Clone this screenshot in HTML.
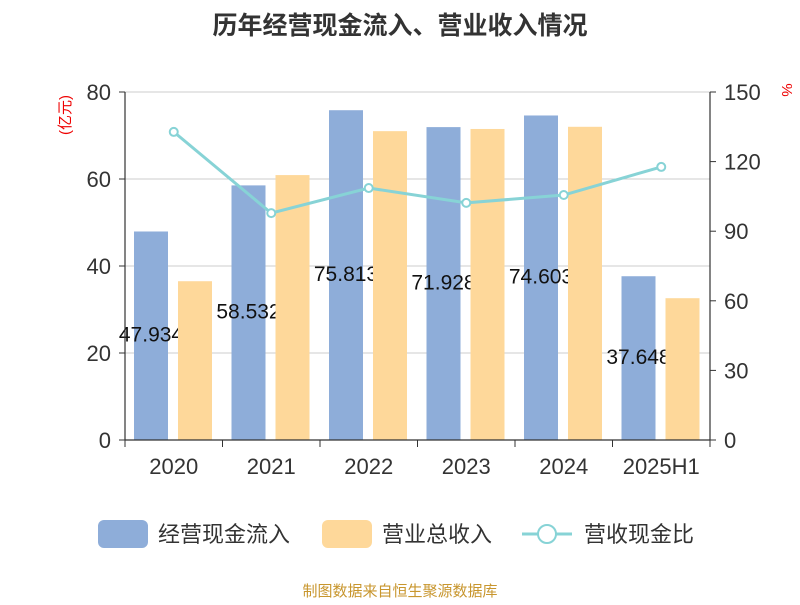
<!DOCTYPE html>
<html><head><meta charset="utf-8"><style>
body{margin:0;background:#fff;width:800px;height:600px;overflow:hidden}
svg text{font-family:"Liberation Sans","Noto Sans CJK SC",sans-serif}
</style></head><body>
<svg id="c" width="800" height="600" xmlns="http://www.w3.org/2000/svg">
<text x="400" y="34" text-anchor="middle" font-size="25" font-weight="bold" fill="#333">历年经营现金流入、营业收入情况</text>
<text transform="translate(70,115) rotate(-90)" text-anchor="middle" font-size="15" fill="#e00">(亿元)</text>
<text transform="translate(782,90) rotate(90)" text-anchor="middle" font-size="15" fill="#e00">%</text>
<g id="grid"></g><g id="bars"></g><g id="axes"></g><g id="line"></g>
<g>
<rect x="98" y="520" width="50" height="28" rx="6" fill="#8eadd9"/>
<text x="158" y="542" font-size="22" fill="#333">经营现金流入</text>
<rect x="322" y="520" width="50" height="28" rx="6" fill="#fed89a"/>
<text x="382" y="542" font-size="22" fill="#333">营业总收入</text>
<line x1="522" y1="534" x2="572" y2="534" stroke="#87d3d6" stroke-width="3"/>
<circle cx="547" cy="534" r="9" fill="#fff" stroke="#87d3d6" stroke-width="2"/>
<text x="584" y="542" font-size="22" fill="#333">营收现金比</text>
</g>
<text x="400" y="596" text-anchor="middle" font-size="15" fill="#c8962e">制图数据来自恒生聚源数据库</text>
</svg>
<script>
const categories=["2020","2021","2022","2023","2024","2025H1"];
const cashInflow=[47.934,58.532,75.813,71.928,74.603,37.648];
const revenue=[36.5,60.9,71.0,71.5,72.0,32.6];
const ratio=[132.8,97.8,108.6,102.2,105.6,117.7];
const leftTicks=[0,20,40,60,80];
const rightTicks=[0,30,60,90,120,150];
const NS="http://www.w3.org/2000/svg";
const X0=125,X1=710,Y0=440,Y1=92;
const bw=(X1-X0)/categories.length;
const yL=v=>Y0-(v/80)*(Y0-Y1);
const yR=v=>Y0-(v/150)*(Y0-Y1);
function mk(tag,attrs,parent,txt){const e=document.createElementNS(NS,tag);for(const k in attrs)e.setAttribute(k,attrs[k]);if(txt!==undefined)e.textContent=txt;document.getElementById(parent).appendChild(e);return e;}
leftTicks.forEach(t=>{
 const g=mk("line",{x1:X0,x2:X1,y1:yL(t),y2:yL(t),stroke:"#ccc","stroke-width":1},"grid");
 
 
 const tk=mk("line",{x1:X0-6,x2:X0,y1:yL(t),y2:yL(t),stroke:"#333"},"axes");
 
 
 const l=mk("text",{x:X0-14,y:yL(t)+8,"text-anchor":"end","font-size":22,fill:"#333"},"axes",t);
 
 
});
rightTicks.forEach(t=>{
 const tk=mk("line",{x1:X1,x2:X1+6,y1:yR(t),y2:yR(t),stroke:"#333"},"axes");
 
 
 const l=mk("text",{x:X1+14,y:yR(t)+8,"font-size":22,fill:"#333"},"axes",t);
 
 
});
[["left-axis",X0,Y1,X0,Y0],["right-axis",X1,Y1,X1,Y0],["x-axis",X0,Y0,X1,Y0]].forEach(a=>{
 const l=mk("line",{x1:a[1],y1:a[2],x2:a[3],y2:a[4],stroke:"#333","stroke-width":1.2},"axes");
 
 
});
categories.forEach((c,i)=>{
 const x=X0+i*bw;
 const tk=mk("line",{x1:x,x2:x,y1:Y0,y2:Y0+7,stroke:"#333"},"axes");
 
 
 const l=mk("text",{x:x+bw/2,y:Y0+34,"text-anchor":"middle","font-size":22,fill:"#333"},"axes",c);
 
 
});
const tkEnd=mk("line",{x1:X1,x2:X1,y1:Y0,y2:Y0+7,stroke:"#333"},"axes");


categories.forEach((c,i)=>{
 const x=X0+i*bw+9;
 const b=mk("rect",{x:x,y:yL(cashInflow[i]),width:34,height:Y0-yL(cashInflow[i]),fill:"#8eadd9"},"bars");
 
 
 const l=mk("text",{x:x+17,y:(yL(cashInflow[i])+Y0)/2+6,"text-anchor":"middle","font-size":21,fill:"#111"},"bars",cashInflow[i].toFixed(3));
 
 
});
categories.forEach((c,i)=>{
 const x=X0+i*bw+53;
 const b=mk("rect",{x:x,y:yL(revenue[i]),width:34,height:Y0-yL(revenue[i]),fill:"#fed89a"},"bars");
 
 
});
const pts=ratio.map((v,i)=>[X0+i*bw+bw/2,yR(v)]);
const pl=mk("polyline",{points:pts.map(p=>p.join(",")).join(" "),fill:"none",stroke:"#87d3d6","stroke-width":3},"line");


pts.forEach((p,i)=>{
 const c=mk("circle",{cx:p[0],cy:p[1],r:4,fill:"#fff",stroke:"#87d3d6","stroke-width":2},"line");
 
 
});
</script>
</body></html>
